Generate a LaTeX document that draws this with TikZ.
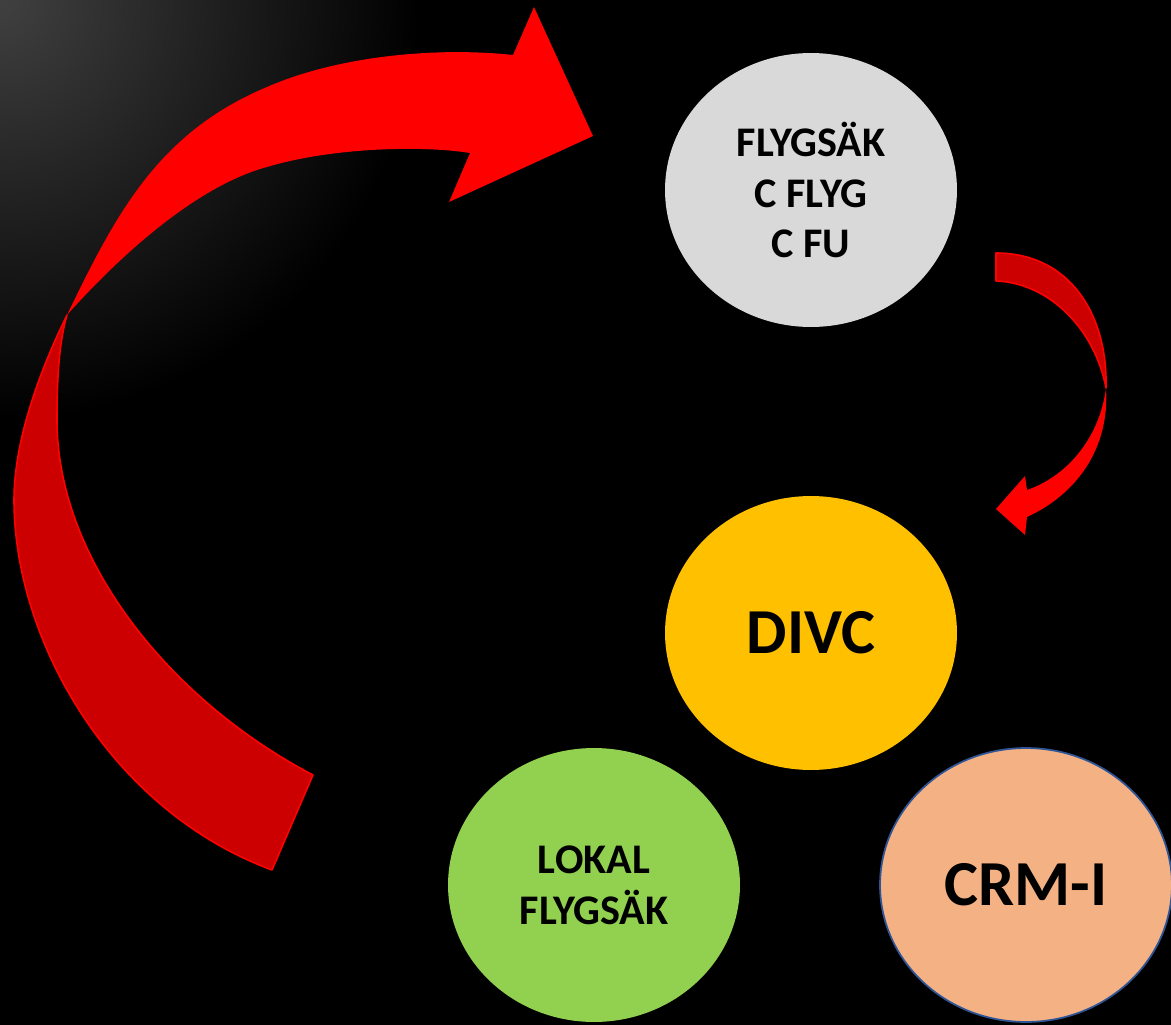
\documentclass[tikz,border=0pt]{standalone}
\usepackage{fontspec}
\setmainfont{Carlito}
\usetikzlibrary{shapes.geometric}

\definecolor{arrowred}{RGB}{255,0,0}
\definecolor{backred}{RGB}{204,0,0}
\definecolor{bubblegray}{RGB}{217,217,217}
\definecolor{bubblegold}{RGB}{255,192,0}
\definecolor{bubblegreen}{RGB}{146,208,80}
\definecolor{bubblesalmon}{RGB}{244,177,131}
\definecolor{bubbleedge}{RGB}{47,85,151}
\definecolor{glow}{RGB}{64,64,64}

\tikzset{
  bubble/.style={ellipse, minimum width=5.84cm, minimum height=5.48cm, inner sep=0pt,
    align=center, font=\bfseries\fontsize{24}{29}\selectfont},
  bigtext/.style={font=\bfseries\fontsize{36.5}{42}\selectfont},
  backface/.style={fill=backred, draw=arrowred, line width=0.9pt, line join=round}
}

\begin{document}
\begin{tikzpicture}[x=0.02cm, y=-0.02cm]
\useasboundingbox (0,0) rectangle (1171,1025);
\fill[black] (0,0) rectangle (1171,1025);%
\begin{scope}
\clip (0,0) rectangle (1171,1025);
\shade[inner color=glow, outer color=black] (0,0) circle [radius=420];
\end{scope}

% big curved arrow, back face
\draw[backface] (67,315) .. controls (40,370) and (14,440) .. (14,500)
  .. controls (14,640) and (110,810) .. (272,870) -- (313,775)
  .. controls (170,700) and (57,560) .. (57,420)
  .. controls (57,370) and (60,340) .. (67,315) -- cycle;
% big curved arrow, front face with head
\fill[arrowred] (67,315) .. controls (115,216) and (157,133) .. (267,87)
  .. controls (340,55) and (440,47) .. (513,55)
  -- (534,7) -- (593,136) -- (449,202) -- (470,153)
  .. controls (420,145) and (330,148) .. (267,167)
  .. controls (200,185) and (125,250) .. (67,315) -- cycle;

% small curved arrow
\draw[backface] (996,253) .. controls (1070,253) and (1108,315) .. (1106,388)
  .. controls (1095,330) and (1050,283) .. (996,281) -- cycle;
\fill[arrowred] (1106,388) .. controls (1110,450) and (1075,495) .. (1027,517)
  -- (1025,535) -- (996,509) -- (1025,476) -- (1027,490)
  .. controls (1070,475) and (1100,435) .. (1106,388) -- cycle;

\node[bubble, fill=bubblegray] (flyg) at (811,190) {FLYGSÄK\\C FLYG\\C FU};
\node[bubble, fill=bubblegold, bigtext] (divc) at (811,633) {DIVC};
\node[bubble, fill=bubblegreen] (lokal) at (594,885) {LOKAL\\FLYGSÄK};
\node[bubble, fill=bubblesalmon, draw=bubbleedge, line width=1pt, bigtext] (crm) at (1026,885) {CRM-I};

\end{tikzpicture}
\end{document}
